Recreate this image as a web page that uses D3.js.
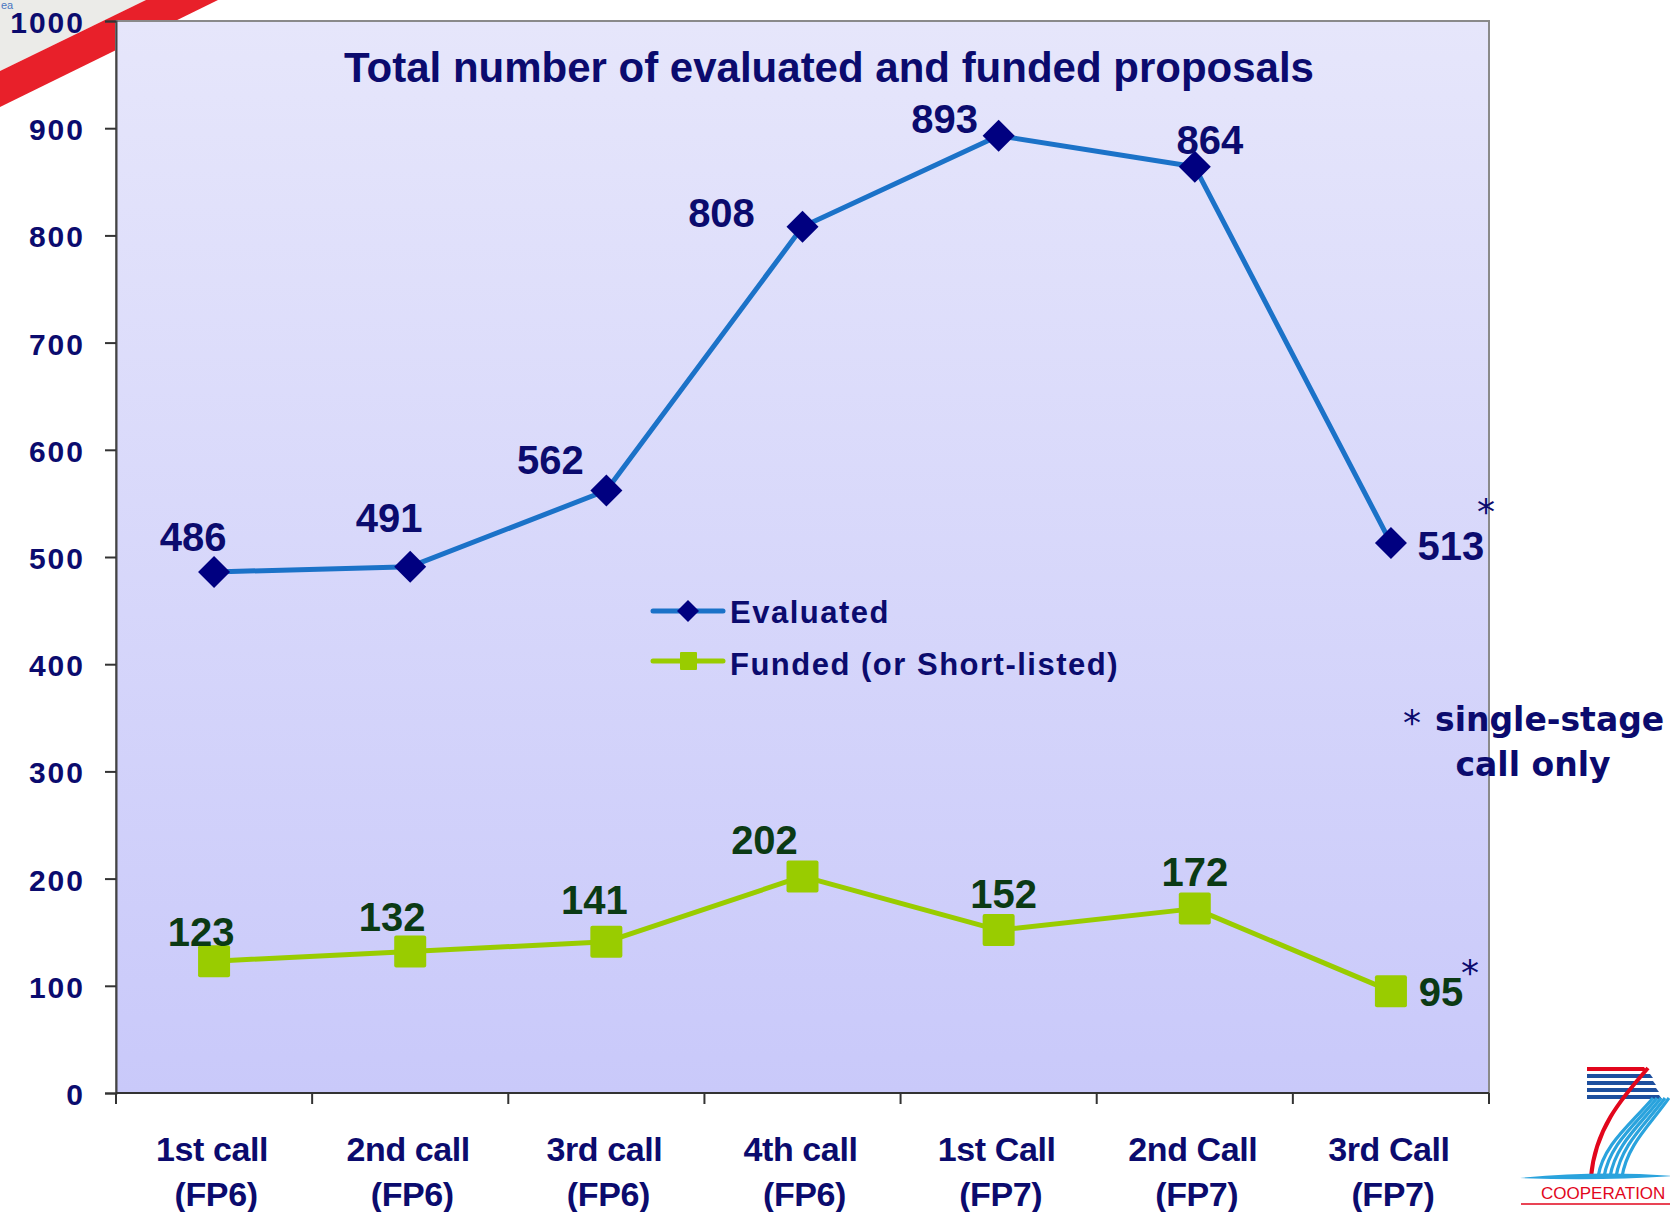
<!DOCTYPE html>
<html>
<head>
<meta charset="utf-8">
<script src="https://cdn.jsdelivr.net/npm/d3@7"></script>
<style>
  html, body { margin: 0; padding: 0; background: #ffffff; }
  svg { display: block; }
</style>
</head>
<body>
<script>
// ---- data ----
const categories = ["1st call|(FP6)", "2nd call|(FP6)", "3rd call|(FP6)", "4th call|(FP6)",
                    "1st Call|(FP7)", "2nd Call|(FP7)", "3rd Call|(FP7)"];
const evaluated = [486, 491, 562, 808, 893, 864, 513];
const funded    = [123, 132, 141, 202, 152, 172, 95];
const yTicks    = [0, 100, 200, 300, 400, 500, 600, 700, 800, 900, 1000];
const seriesNames = ["Evaluated", "Funded (or Short-listed)"];
const titleText = "Total number of evaluated and funded proposals";
const footnoteLines = ["single-stage", "call only"];

// ---- label placement (layout only) ----
const evalLabelOffsets   = [[-21,-21],[-21,-35],[-56,-17],[-81,0],[-54,-3],[15,-13],[60,17]];
const fundedLabelOffsets = [[-13,-15],[-18,-20],[-12,-28],[-38,-22],[5,-22],[0,-23],[50,15]];

const W = 1670, H = 1212;
const plot = { left: 116, right: 1489, top: 21, bottom: 1093 };
const navy = "#0b0b6e";

const svg = d3.select("body").append("svg").attr("width", W).attr("height", H);
const defs = svg.append("defs");
const grad = defs.append("linearGradient").attr("id", "bg").attr("x1", 0).attr("y1", 0).attr("x2", 0).attr("y2", 1);
grad.append("stop").attr("offset", "0%").attr("stop-color", "#e6e6fb");
grad.append("stop").attr("offset", "100%").attr("stop-color", "#c9c9fa");

// top-left slide decoration
svg.append("polygon").attr("points", "0,0 146,0 0,71").attr("fill", "#ebebe8");
svg.append("polygon").attr("points", "0,71 146,0 218,0 0,107").attr("fill", "#e8202a");
svg.append("text").attr("x", 1).attr("y", 9).attr("font-family", "Liberation Sans, Arial, sans-serif")
   .attr("font-size", 11).attr("fill", "#4a76c0").text("ea");

// scales
const x = d3.scaleBand().domain(categories).range([plot.left, plot.right]).padding(0);
const cx = c => x(c) + x.bandwidth() / 2;
const y = d3.scaleLinear().domain([0, 1000]).range([plot.bottom, plot.top]);

// plot area
svg.append("rect").attr("x", plot.left).attr("y", plot.top)
   .attr("width", plot.right - plot.left).attr("height", plot.bottom - plot.top)
   .attr("fill", "url(#bg)").attr("stroke", "#8a8a8a").attr("stroke-width", 2);

// y axis
const yAxis = svg.append("g").attr("transform", `translate(${plot.left},0)`)
  .call(d3.axisLeft(y).tickValues(yTicks).tickSize(11).tickPadding(20).tickFormat(d3.format("d")));
yAxis.select(".domain").attr("stroke", "#444").attr("stroke-width", 2);
yAxis.selectAll(".tick line").attr("stroke", "#333").attr("stroke-width", 2);
yAxis.selectAll(".tick text").attr("font-family", "Liberation Sans, Arial, sans-serif")
  .attr("font-weight", "bold").attr("font-size", 30).attr("letter-spacing", 2)
  .attr("fill", navy).attr("dy", "0.38em");

// x axis (ticks at category boundaries)
const bounds = categories.map(c => x(c)).concat([plot.right]);
svg.append("line").attr("x1", plot.left).attr("x2", plot.right)
   .attr("y1", plot.bottom).attr("y2", plot.bottom).attr("stroke", "#333").attr("stroke-width", 2);
svg.selectAll(".xtick").data(bounds).enter().append("line")
   .attr("x1", d => d).attr("x2", d => d).attr("y1", plot.bottom).attr("y2", plot.bottom + 11)
   .attr("stroke", "#333").attr("stroke-width", 2);
const xl = svg.selectAll(".xlab").data(categories).enter().append("text")
   .attr("text-anchor", "middle").attr("font-family", "Liberation Sans, Arial, sans-serif")
   .attr("font-weight", "bold").attr("font-size", 34).attr("fill", navy)
   .attr("letter-spacing", -0.4);
xl.append("tspan").attr("x", d => cx(d) - 2).attr("y", 1161).text(d => d.split("|")[0]);
xl.append("tspan").attr("x", d => cx(d) + 2).attr("y", 1206).text(d => d.split("|")[1]);

// title
svg.append("text").attr("x", 829).attr("y", 82).attr("text-anchor", "middle")
   .attr("font-family", "Liberation Sans, Arial, sans-serif").attr("font-weight", "bold")
   .attr("font-size", 42).attr("fill", navy).text(titleText);

// lines
const blue = "#1b72c8", green = "#99cc00";
const line = d3.line().x((d, i) => cx(categories[i])).y(d => y(d));
svg.append("path").datum(evaluated).attr("d", line).attr("fill", "none")
   .attr("stroke", blue).attr("stroke-width", 5).attr("stroke-linejoin", "round");
svg.append("path").datum(funded).attr("d", line).attr("fill", "none")
   .attr("stroke", green).attr("stroke-width", 5).attr("stroke-linejoin", "round");

// markers
const diamond = (px, py, r) => `M${px},${py - r}L${px + r},${py}L${px},${py + r}L${px - r},${py}Z`;
svg.selectAll(".dia").data(evaluated).enter().append("path")
   .attr("d", (d, i) => diamond(cx(categories[i]), y(d), 16)).attr("fill", "#000080");
svg.selectAll(".sq").data(funded).enter().append("rect")
   .attr("x", (d, i) => cx(categories[i]) - 16).attr("y", d => y(d) - 16)
   .attr("width", 32).attr("height", 32).attr("rx", 2).attr("fill", green);

// value labels
const labFont = "Liberation Sans, Arial, sans-serif";
svg.selectAll(".elab").data(evaluated).enter().append("text")
   .attr("x", (d, i) => cx(categories[i]) + evalLabelOffsets[i][0])
   .attr("y", (d, i) => y(d) + evalLabelOffsets[i][1])
   .attr("text-anchor", "middle").attr("font-family", labFont).attr("font-weight", "bold")
   .attr("font-size", 40).attr("fill", navy).text(d => d);
svg.selectAll(".flab").data(funded).enter().append("text")
   .attr("x", (d, i) => cx(categories[i]) + fundedLabelOffsets[i][0])
   .attr("y", (d, i) => y(d) + fundedLabelOffsets[i][1])
   .attr("text-anchor", "middle").attr("font-family", labFont).attr("font-weight", "bold")
   .attr("font-size", 40).attr("fill", "#0b3a14").text(d => d);

// asterisks on last points
const last = categories.length - 1;
const star = (px, py) => svg.append("text").attr("x", px).attr("y", py).attr("text-anchor", "middle")
   .attr("font-family", "DejaVu Sans, sans-serif").attr("font-size", 36).attr("fill", navy).text("*");
star(cx(categories[last]) + 95, y(evaluated[last]) - 19);
star(cx(categories[last]) + 79, y(funded[last]) - 6);

// legend
const lg = svg.append("g");
lg.append("line").attr("x1", 653).attr("x2", 723).attr("y1", 611).attr("y2", 611)
  .attr("stroke", blue).attr("stroke-width", 5).attr("stroke-linecap", "round");
lg.append("path").attr("d", diamond(688, 611, 11)).attr("fill", "#000080");
lg.append("line").attr("x1", 653).attr("x2", 723).attr("y1", 661).attr("y2", 661)
  .attr("stroke", green).attr("stroke-width", 5).attr("stroke-linecap", "round");
lg.append("rect").attr("x", 680).attr("y", 652).attr("width", 17).attr("height", 18).attr("rx", 1).attr("fill", green);
lg.selectAll("text").data(seriesNames).enter().append("text")
  .attr("x", 730).attr("y", (d, i) => 623 + i * 52)
  .attr("font-family", labFont).attr("font-weight", "bold").attr("font-size", 31)
  .attr("letter-spacing", 1.5).attr("fill", navy).text(d => d);

// footnote
svg.append("text").attr("x", 1412).attr("y", 735).attr("text-anchor", "middle")
   .attr("font-family", "DejaVu Sans, sans-serif").attr("font-size", 36).attr("fill", navy).text("*");
svg.append("text").attr("x", 1435).attr("y", 731)
   .attr("font-family", "DejaVu Sans, sans-serif").attr("font-weight", "bold")
   .attr("font-size", 33).attr("fill", navy).text(footnoteLines[0]);
svg.append("text").attr("x", 1533).attr("y", 776).attr("text-anchor", "middle")
   .attr("font-family", "DejaVu Sans, sans-serif").attr("font-weight", "bold")
   .attr("font-size", 33).attr("fill", navy).text(footnoteLines[1]);

// FP7 cooperation logo (decoration)
const logo = svg.append("g");
logo.append("path").attr("d", "M1587,1067 L1644,1067 L1647,1071 L1587,1071 Z").attr("fill", "#e2061c");
[1074, 1081, 1088, 1095].forEach((yy, k) => {
  logo.append("path").attr("d", `M1587,${yy} L${1650 + k * 3},${yy} L${1653 + k * 3},${yy + 4} L1587,${yy + 4} Z`)
    .attr("fill", "#1d4f9e");
});
logo.append("path").attr("d", "M1648,1068 C1620,1100 1595,1130 1591,1177").attr("fill", "none")
  .attr("stroke", "#e2061c").attr("stroke-width", 4);
[0, 1, 2, 3, 4].forEach(k => {
  logo.append("path").attr("d", `M${1653 + k * 4},1098 C${1630 + k * 5},1125 ${1603 + k * 6},1145 ${1598 + k * 6},1177`)
    .attr("fill", "none").attr("stroke", "#2aa3dd").attr("stroke-width", 3.2);
});
logo.append("path").attr("d", "M1520,1178 Q1600,1170 1672,1176 Q1600,1181 1520,1178 Z").attr("fill", "#2aa3dd");
logo.append("text").attr("x", 1541).attr("y", 1199).attr("font-family", "Liberation Sans, Arial, sans-serif")
  .attr("font-size", 17).attr("fill", "#e2061c").text("COOPERATION");
logo.append("line").attr("x1", 1521).attr("x2", 1670).attr("y1", 1204).attr("y2", 1204)
  .attr("stroke", "#e2061c").attr("stroke-width", 1.5);
</script>
</body>
</html>
